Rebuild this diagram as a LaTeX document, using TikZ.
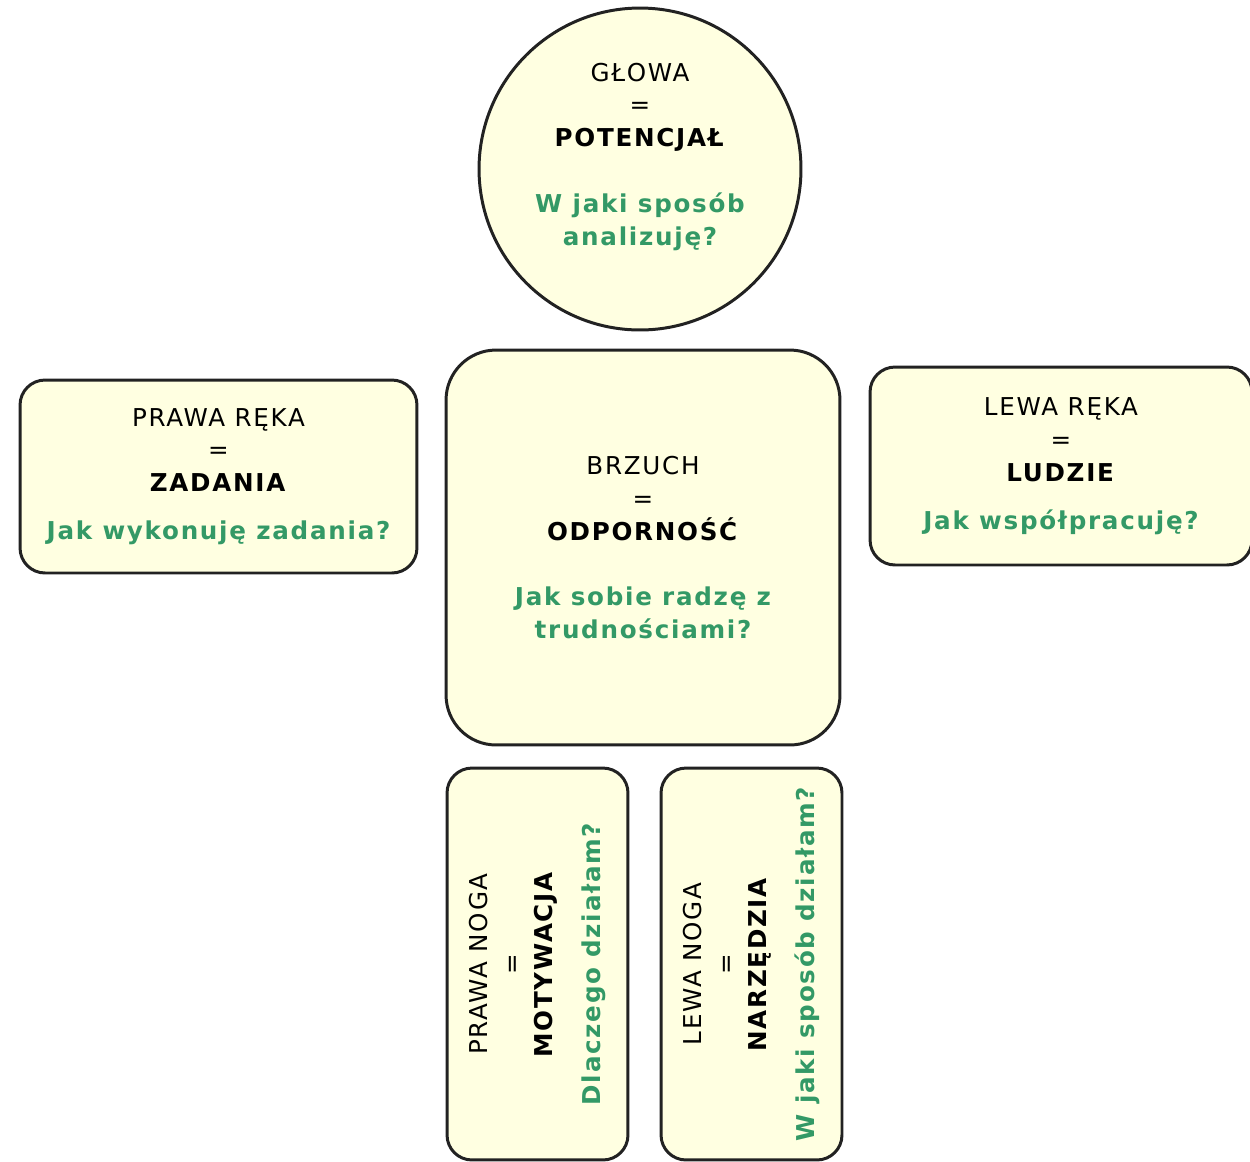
\documentclass[tikz,border=0pt]{standalone}
\usepackage{fontspec}
\setmainfont[LetterSpace=7]{DejaVu Sans}
\usepackage{xcolor}
\usepackage{tikz}
\usetikzlibrary{positioning}
\definecolor{bodyfill}{HTML}{FFFFE1}
\definecolor{askgreen}{HTML}{339966}
\definecolor{edge}{HTML}{222222}
\newcommand{\ask}[1]{{\color{askgreen}\bfseries #1}}
\tikzset{%
	part/.style     = {draw=edge, fill=bodyfill, line width=1.7pt, align=center, inner sep=0pt,
	                   font=\fontsize{14}{18.7}\selectfont}, % body part
	headpart/.style = {part, circle, minimum size=6.44cm}, % head
	armpart/.style  = {part, rectangle, rounded corners=0.5cm}, % arms
	bellypart/.style= {part, rectangle, rounded corners=1cm, minimum width=7.88cm, minimum height=7.9cm}, % belly
	legpart/.style  = {part, rectangle, rounded corners=0.5cm, rotate=90, minimum width=7.84cm, minimum height=3.62cm}, % legs
}

\begin{document}
\begin{tikzpicture}[x=0.02cm, y=-0.02cm]
		\useasboundingbox (0,0) rectangle (1250,1161);
		\node[headpart, text depth=17pt] (head) at (640,169) {GŁOWA\\=\\\textbf{POTENCJAŁ}\\ \\\ask{W jaki sposób}\\\ask{analizuję?}};
		\node[armpart, minimum width=7.94cm, minimum height=3.86cm] (rarm) at (218.5,476.5) {PRAWA RĘKA\\=\\\textbf{ZADANIA}\\[8.5pt]\ask{Jak wykonuję zadania?}};
		\node[bellypart] (belly) at (643,547.5) {BRZUCH\\=\\\textbf{ODPORNOŚĆ}\\ \\\ask{Jak sobie radzę z}\\\ask{trudnościami?}};
		\node[armpart, minimum width=7.64cm, minimum height=3.96cm] (larm) at (1061,466) {LEWA RĘKA\\=\\\textbf{LUDZIE}\\[8.5pt]\ask{Jak współpracuję?}};
		\node[legpart] (rleg) at (537.5,964) {PRAWA NOGA\\=\\\textbf{MOTYWACJA}\\[8.5pt]\ask{Dlaczego działam?}};
		\node[legpart] (lleg) at (751.5,964) {LEWA NOGA\\=\\\textbf{NARZĘDZIA}\\[8.5pt]\ask{W jaki sposób działam?}};
		\end{tikzpicture}
\end{document}
